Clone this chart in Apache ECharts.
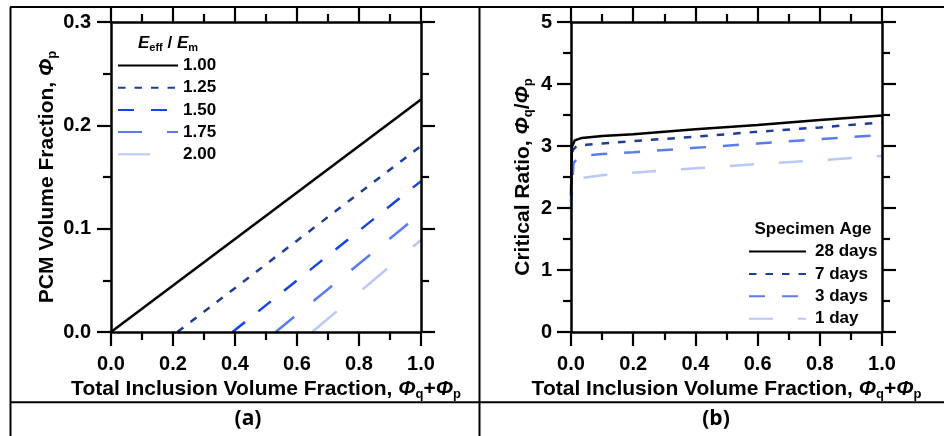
<!DOCTYPE html>
<html>
<head>
<meta charset="utf-8">
<title>PCM volume fraction and critical ratio</title>
<script src="https://cdn.jsdelivr.net/npm/echarts@6/dist/echarts.min.js"></script>
<style>
  html, body { margin: 0; padding: 0; background: #fff; }
  #chart { width: 944px; height: 436px; }
</style>
</head>
<body>
<div id="chart"></div>
<script>
// ---- Panel (a): PCM volume fraction vs total inclusion volume fraction ----
const stiffnessRatios = ['1.00', '1.25', '1.50', '1.75', '2.00'];
const pcmX_100 = [0.0, 1.0];
const pcmY_100 = [0.0, 0.225];
const pcmX_125 = [0.214, 1.0];
const pcmY_125 = [0.0, 0.180];
const pcmX_150 = [0.392, 1.0];
const pcmY_150 = [0.0, 0.146];
const pcmX_175 = [0.531, 1.0];
const pcmY_175 = [0.0, 0.115];
const pcmX_200 = [0.649, 1.0];
const pcmY_200 = [0.0, 0.089];

// ---- Panel (b): critical ratio vs total inclusion volume fraction ----
const specimenAges = ['28 days', '7 days', '3 days', '1 day'];
const ratioX_28 = [0.0, 0.003, 0.012, 0.035, 0.1, 0.2, 0.4, 0.6, 0.8, 1.0];
const ratioY_28 = [2.2, 2.99, 3.09, 3.13, 3.16, 3.19, 3.27, 3.34, 3.42, 3.49];
const ratioX_7 = [0.0, 0.005, 0.018, 0.05, 0.1, 0.2, 0.4, 0.6, 0.8, 1.0];
const ratioY_7 = [2.1, 2.93, 3.00, 3.02, 3.04, 3.08, 3.15, 3.23, 3.30, 3.38];
const ratioX_3 = [0.0, 0.008, 0.024, 0.05, 0.1, 0.2, 0.4, 0.6, 0.8, 1.0];
const ratioY_3 = [2.0, 2.72, 2.83, 2.85, 2.87, 2.90, 2.97, 3.04, 3.11, 3.18];
const ratioX_1 = [0.0, 0.004, 0.008, 0.03, 0.1, 0.2, 0.4, 0.6, 0.8, 1.0];
const ratioY_1 = [1.8, 2.32, 2.40, 2.48, 2.53, 2.57, 2.64, 2.71, 2.77, 2.84];

// Axis tick settings
const xTicks = { min: 0, max: 1, interval: 0.2 };
const yTicksA = { min: 0, max: 0.3, interval: 0.1 };
const yTicksB = { min: 0, max: 5, interval: 1 };

const FONT = '"Liberation Sans", Arial, Helvetica, sans-serif';

function zip(xs, ys) {
  return xs.map((x, i) => [x, ys[i]]);
}

const nameRich = {
  b: { fontFamily: FONT, fontSize: 21, fontWeight: 'bold', color: '#000', lineHeight: 24 },
  i: { fontFamily: FONT, fontSize: 21, fontWeight: 'bold', fontStyle: 'italic', color: '#000', lineHeight: 24 },
  s: { fontFamily: FONT, fontSize: 13, fontWeight: 'bold', color: '#000', verticalAlign: 'bottom', lineHeight: 13 }
};

function baseAxis(extra) {
  return Object.assign({
    type: 'value',
    z: 3,
    axisLine: { show: true, onZero: false, lineStyle: { color: '#000', width: 2.5 } },
    axisTick: { show: true, inside: false, length: 14, lineStyle: { color: '#000', width: 2.2 } },
    minorTick: { show: true, splitNumber: 2, length: 8, lineStyle: { color: '#000', width: 2.2 } },
    splitLine: { show: false },
    minorSplitLine: { show: false }
  }, extra);
}

function labelStyle(fmt, margin) {
  return {
    show: true, formatter: fmt, margin: margin,
    fontFamily: FONT, fontSize: 20, fontWeight: 'bold', color: '#000',
    showMinLabel: true, showMaxLabel: true, hideOverlap: false
  };
}

const xName = '{b|Total Inclusion Volume Fraction, }{i|Φ}{s|q}{b|+}{i|Φ}{s|p}';

const xAxes = [];
const yAxes = [];
[0, 1].forEach(g => {
  xAxes.push(baseAxis(Object.assign({
    gridIndex: g, position: 'bottom',
    axisLabel: labelStyle(v => v.toFixed(1), 22),
    name: xName, nameLocation: 'middle', nameGap: 42,
    nameTextStyle: { rich: nameRich }
  }, xTicks)));
  xAxes.push(baseAxis(Object.assign({
    gridIndex: g, position: 'top', axisLabel: { show: false }
  }, xTicks)));
});

// y axes for panel (a)
yAxes.push(baseAxis(Object.assign({
  gridIndex: 0, position: 'left',
  axisLabel: labelStyle(v => v.toFixed(1), 20),
  name: '{b|PCM Volume Fraction, }{i|Φ}{s|p}', nameLocation: 'middle', nameGap: 52,
  nameTextStyle: { rich: nameRich }
}, yTicksA)));
yAxes.push(baseAxis(Object.assign({
  gridIndex: 0, position: 'right', axisLabel: { show: false }
}, yTicksA)));
// y axes for panel (b)
yAxes.push(baseAxis(Object.assign({
  gridIndex: 1, position: 'left',
  axisLabel: labelStyle(v => String(Math.round(v)), 19),
  name: '{b|Critical Ratio, }{i|Φ}{s|q}{b|/}{i|Φ}{s|p}', nameLocation: 'middle', nameGap: 36,
  nameTextStyle: { rich: nameRich }
}, yTicksB)));
yAxes.push(baseAxis(Object.assign({
  gridIndex: 1, position: 'right', axisLabel: { show: false }
}, yTicksB)));

const DARK_BLUE = '#1f3c96';
const BRIGHT_BLUE = '#1444ea';
const MID_BLUE = '#5b7cf0';
const LIGHT_BLUE = '#bac8f7';

function lineSeries(name, data, xi, yi, color, dash) {
  return {
    type: 'line', name: name, data: data,
    xAxisIndex: xi, yAxisIndex: yi,
    symbol: 'none', showSymbol: false, smooth: false, animation: false,
    clip: true, z: 2,
    lineStyle: { color: color, width: 2.5, type: dash, cap: 'butt' },
    itemStyle: { color: color }
  };
}

const series = [
  lineSeries(stiffnessRatios[0], zip(pcmX_100, pcmY_100), 0, 0, '#000', 'solid'),
  lineSeries(stiffnessRatios[1], zip(pcmX_125, pcmY_125), 0, 0, DARK_BLUE, [7.5, 9]),
  lineSeries(stiffnessRatios[2], zip(pcmX_150, pcmY_150), 0, 0, BRIGHT_BLUE, [16, 17]),
  lineSeries(stiffnessRatios[3], zip(pcmX_175, pcmY_175), 0, 0, MID_BLUE, [24, 25]),
  lineSeries(stiffnessRatios[4], zip(pcmX_200, pcmY_200), 0, 0, LIGHT_BLUE, [32, 34]),
  lineSeries(specimenAges[0], zip(ratioX_28, ratioY_28), 2, 2, '#000', 'solid'),
  lineSeries(specimenAges[1], zip(ratioX_7, ratioY_7), 2, 2, DARK_BLUE, [7.5, 9]),
  lineSeries(specimenAges[2], zip(ratioX_3, ratioY_3), 2, 2, MID_BLUE, [16, 17]),
  lineSeries(specimenAges[3], zip(ratioX_1, ratioY_1), 2, 2, LIGHT_BLUE, [24, 25])
];

const legendText = { fontFamily: FONT, fontSize: 17, fontWeight: 'bold', color: '#000' };

const chart = echarts.init(document.getElementById('chart'), null, { renderer: 'canvas' });
chart.setOption({
  animation: false,
  backgroundColor: '#fff',
  grid: [
    { left: 111, top: 22, width: 310, height: 310, containLabel: false, outerBoundsMode: 'none' },
    { left: 571, top: 22, width: 311, height: 310, containLabel: false, outerBoundsMode: 'none' }
  ],
  xAxis: xAxes,
  yAxis: yAxes,
  legend: [
    {
      data: stiffnessRatios, orient: 'vertical', left: 117, top: 57,
      itemWidth: 60, itemHeight: 14, itemGap: 5.2, padding: 0,
      itemStyle: { opacity: 0 }, selectedMode: false,
      textStyle: legendText
    },
    {
      data: specimenAges, orient: 'vertical', left: 748, top: 243,
      itemWidth: 57, itemHeight: 14, itemGap: 5.4, padding: 0,
      itemStyle: { opacity: 0 }, selectedMode: false,
      textStyle: Object.assign({ padding: [0, 0, 0, 4] }, legendText)
    }
  ],
  series: series,
  graphic: [
    // panel frame and dividers
    { type: 'line', shape: { x1: 10, y1: 7, x2: 944, y2: 7 }, style: { stroke: '#000', lineWidth: 2 }, silent: true },
    { type: 'line', shape: { x1: 10.5, y1: 7, x2: 10.5, y2: 436 }, style: { stroke: '#000', lineWidth: 2 }, silent: true },
    { type: 'line', shape: { x1: 479.5, y1: 7, x2: 479.5, y2: 436 }, style: { stroke: '#000', lineWidth: 2 }, silent: true },
    { type: 'line', shape: { x1: 10, y1: 402.3, x2: 944, y2: 402.3 }, style: { stroke: '#000', lineWidth: 2 }, silent: true },
    // legend headings
    {
      type: 'text', x: 138, y: 43, silent: true,
      style: {
        text: '{i|E}{s|eff}{b| / }{i|E}{s|m}',
        verticalAlign: 'middle', align: 'left',
        rich: {
          b: { fontFamily: FONT, fontSize: 17, fontWeight: 'bold', fill: '#000', lineHeight: 20 },
          i: { fontFamily: FONT, fontSize: 17, fontWeight: 'bold', fontStyle: 'italic', fill: '#000', lineHeight: 20 },
          s: { fontFamily: FONT, fontSize: 11, fontWeight: 'bold', fill: '#000', verticalAlign: 'bottom', lineHeight: 11 }
        }
      }
    },
    {
      type: 'text', x: 813, y: 229, silent: true,
      style: {
        text: 'Specimen Age', align: 'center', verticalAlign: 'middle',
        font: 'bold 17px ' + FONT, fill: '#000'
      }
    },
    // panel labels
    {
      type: 'text', x: 248, y: 419, silent: true,
      style: { text: '(a)', align: 'center', verticalAlign: 'middle', font: 'bold 21px "Open Sans", "Noto Sans", sans-serif', fill: '#000' }
    },
    {
      type: 'text', x: 716, y: 419, silent: true,
      style: { text: '(b)', align: 'center', verticalAlign: 'middle', font: 'bold 21px "Open Sans", "Noto Sans", sans-serif', fill: '#000' }
    }
  ]
});
</script>
</body>
</html>
